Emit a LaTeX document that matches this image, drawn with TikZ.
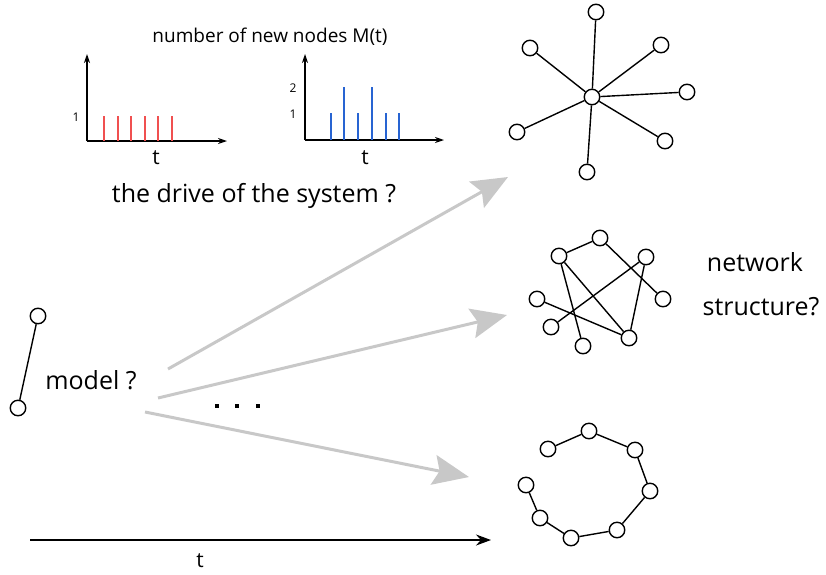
\documentclass[tikz,border=0pt]{standalone}
\usepackage{fontspec}
\setmainfont{Open Sans}
\usetikzlibrary{arrows.meta}
\definecolor{barred}{RGB}{240,80,80}
\definecolor{barblue}{RGB}{40,100,210}
\definecolor{arrgray}{RGB}{200,200,200}
\tikzset{
  vtx/.style={circle,draw,line width=1.4pt,fill=white,minimum size=15.5pt,inner sep=0pt},
  edge/.style={line width=1.4pt},
  grayarrow/.style={draw=arrgray,line width=3pt,-{Stealth[length=36pt,width=30pt,inset=6pt,fill=arrgray]}},
  axis/.style={line width=1.2pt,-{Stealth[length=9pt,width=6pt]}},
  redbar/.style={draw=barred,line width=1.6pt},
  bluebar/.style={draw=barblue,line width=1.6pt},
  bigtxt/.style={font=\fontsize{25}{28}\selectfont,inner sep=0pt},
  smalltxt/.style={font=\fontsize{19}{22}\selectfont,inner sep=0pt},
  ttxt/.style={font=\fontsize{21}{24}\selectfont,inner sep=0pt},
  ticktxt/.style={font=\fontsize{12}{14}\selectfont,inner sep=0pt},
}
\begin{document}
\begin{tikzpicture}[x=1pt,y=-1pt]
\useasboundingbox (0,0) rectangle (826,574);

% title
\node[smalltxt] (title) at (270,37) {number of new nodes M(t)};

% plot 1
\coordinate (o1) at (87,141);
\coordinate (y1) at (87,54);
\coordinate (x1) at (227,141);
\draw[axis] (o1) -- (y1);
\draw[axis] (o1) -- (x1);
\foreach \x in {104,118,131,145,158,172}{
  \draw[redbar] (\x,141) -- (\x,115.5);
}
\node[ticktxt] (l1a) at (76,117) {1};
\node[ttxt] (t1) at (156,158) {t};

% plot 2
\coordinate (o2) at (305,140);
\coordinate (y2) at (305,54);
\coordinate (x2) at (444,140);
\draw[axis] (o2) -- (y2);
\draw[axis] (o2) -- (x2);
\foreach \x/\h in {331/113, 344/87, 358/113, 372/87, 386/113, 399/113}{
  \draw[bluebar] (\x,140) -- (\x,\h);
}
\node[ticktxt] (l2a) at (293,114) {1};
\node[ticktxt] (l2b) at (293,88) {2};
\node[ttxt] (t2) at (365,158) {t};

\node[bigtxt] (drive) at (254,196) {the drive of the system ?};

% star graph
\node[vtx] (sc) at (592,97) {};
\node[vtx] (s1) at (596,12) {};
\node[vtx] (s2) at (530,48) {};
\node[vtx] (s3) at (661,45) {};
\node[vtx] (s4) at (687,92) {};
\node[vtx] (s5) at (517,132) {};
\node[vtx] (s6) at (665,141) {};
\node[vtx] (s7) at (587,172) {};
\foreach \n in {s1,s2,s3,s4,s5,s6,s7}{\draw[edge] (sc) -- (\n);}

% random graph
\node[vtx] (ra) at (600,238) {};
\node[vtx] (rb) at (559,256) {};
\node[vtx] (rc) at (646,257) {};
\node[vtx] (rd) at (663,299) {};
\node[vtx] (re) at (537,299) {};
\node[vtx] (rf) at (551,327) {};
\node[vtx] (rg) at (583,346) {};
\node[vtx] (rh) at (629,338) {};
\draw[edge] (ra) -- (rb);
\draw[edge] (ra) -- (rd);
\draw[edge] (rb) -- (rg);
\draw[edge] (rb) -- (rh);
\draw[edge] (rc) -- (rf);
\draw[edge] (rc) -- (rh);
\draw[edge] (re) -- (rh);

\node[bigtxt] (net) at (755,262) {network};
\node[bigtxt] (struct) at (761,307) {structure?};

% chain graph
\node[vtx] (c1) at (548,449) {};
\node[vtx] (c2) at (589,431) {};
\node[vtx] (c3) at (635,450) {};
\node[vtx] (c4) at (650,491) {};
\node[vtx] (c5) at (617,530) {};
\node[vtx] (c6) at (571,538) {};
\node[vtx] (c7) at (540,518) {};
\node[vtx] (c8) at (526,485) {};
\draw[edge] (c1) -- (c2) -- (c3) -- (c4) -- (c5) -- (c6) -- (c7) -- (c8);

% left pair
\node[vtx] (p1) at (38,316) {};
\node[vtx] (p2) at (18,408) {};
\draw[edge] (p1) -- (p2);
\node[bigtxt] (model) at (91,380) {model ?};

% dots
\foreach \x in {217,237,258}{\fill (\x-1.8,404.2) rectangle (\x+1.8,407.8);}

% gray arrows
\coordinate (a1s) at (168,369);
\coordinate (a1e) at (508,177);
\coordinate (a2s) at (158,398);
\coordinate (a2e) at (507,315);
\coordinate (a3s) at (145,412);
\coordinate (a3e) at (469,477);
\draw[grayarrow] (a1s) -- (a1e);
\draw[grayarrow] (a2s) -- (a2e);
\draw[grayarrow] (a3s) -- (a3e);

% time axis
\coordinate (ts) at (30,540);
\coordinate (te) at (491,540);
\draw[line width=1.4pt,-{Stealth[length=15pt,width=11pt]}] (ts) -- (te);
\node[ttxt] (tl) at (200,561) {t};
\end{tikzpicture}
\end{document}
